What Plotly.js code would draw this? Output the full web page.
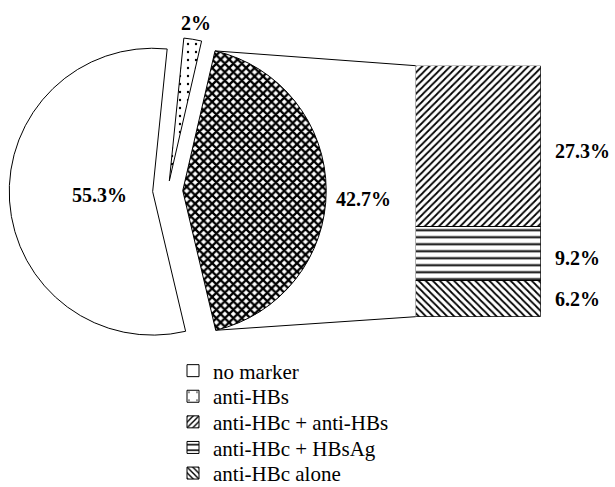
<!DOCTYPE html>
<html><head><meta charset="utf-8">
<script src="https://cdn.plot.ly/plotly-3.0.1.min.js"></script>
<style>html,body{margin:0;padding:0;background:#fff}#chart{width:615px;height:487px}</style>
</head><body><div id="chart"></div>
<script>
// ---- data ----
const pieLabels = ['anti-HBs', 'anti-HBc', 'no marker'];
const pieValues = [2, 42.7, 55.3];
const piePull = [0.07, 0.105, 0.105];
const pieRotation = 5.8;
const barLabels = ['anti-HBc alone', 'anti-HBc + HBsAg', 'anti-HBc + anti-HBs'];
const barValues = [6.2, 9.2, 27.3];
const legendOrder = ['no marker', 'anti-HBs', 'anti-HBc + anti-HBs', 'anti-HBc + HBsAg', 'anti-HBc alone'];

// ---- layout constants ----
const W = 615, H = 487;
const FONT = 'Liberation Serif';
const pieDomX = [9.2 / W, 326.2 / W];
const pieDomY = [1 - 349.2 / H, 1 - 32.2 / H];
const barDomX = [415.7 / W, 540.7 / W];
const barDomY = [1 - 316.7 / H, 1 - 65.7 / H];
const barTotal = barValues.reduce((a, b) => a + b, 0);
// label placement: radial distance (fraction of radius) along slice bisector
const pieLabelRadius = [1.12, 1.26, 0.37];
const pieLabelShift = [-1, -9, 0];

const piePattern = {
  shape: ['.', 'x', ''],
  size: [8, 6, 8],
  solidity: [0.07, 0.62, 0.3],
  fgcolor: 'black', bgcolor: 'white'
};
const barPatterns = {
  'anti-HBc alone': {shape: '\\', size: 5, solidity: 0.35},
  'anti-HBc + HBsAg': {shape: '-', size: 7, solidity: 0.28},
  'anti-HBc + anti-HBs': {shape: '/', size: 5, solidity: 0.35},
  'no marker': {shape: '', size: 8, solidity: 0.3},
  'anti-HBs': {shape: '.', size: 12, solidity: 0.03}
};
const boldFont = {family: FONT, size: 20, weight: 'bold', color: 'black'};

const traces = [];
traces.push({
  type: 'pie', labels: pieLabels, values: pieValues, sort: false,
  direction: 'clockwise', rotation: pieRotation, pull: piePull,
  domain: {x: pieDomX, y: pieDomY},
  marker: {colors: ['white', 'white', 'white'], line: {color: 'black', width: 1}, pattern: piePattern},
  textinfo: 'none', textposition: 'none',
  showlegend: false, hoverinfo: 'none'
});

const legendNames = ['legend', 'legend2', 'legend3', 'legend4', 'legend5'];
function legendFor(name) { return legendNames[legendOrder.indexOf(name)]; }

// legend entries for the pie categories
['no marker', 'anti-HBs'].forEach(n => {
  const p = barPatterns[n];
  traces.push({
    type: 'bar', x: ['c'], y: [null], name: n, legend: legendFor(n),
    marker: {color: 'white', line: {color: 'black', width: 1},
      pattern: {shape: p.shape, size: p.size, solidity: p.solidity, fgcolor: 'black', bgcolor: 'white'}},
    hoverinfo: 'none'
  });
});
barLabels.forEach((n, i) => {
  const p = barPatterns[n];
  traces.push({
    type: 'bar', x: ['c'], y: [barValues[i]], name: n, legend: legendFor(n),
    marker: {color: 'white', line: {color: 'black', width: 1},
      pattern: {shape: p.shape, size: p.size, solidity: p.solidity, fgcolor: 'black', bgcolor: 'white'}},
    hoverinfo: 'none'
  });
});

// bar labels
const annotations = [];
let cum = 0;
barValues.forEach((v, i) => {
  annotations.push({
    xref: 'x domain', yref: 'y', x: 1, y: cum + v / 2, xanchor: 'left', yanchor: 'middle',
    xshift: 12, yshift: i === 0 ? -1 : -5, text: v + '%', showarrow: false, font: boldFont
  });
  cum += v;
});

// pie geometry (same rules plotly uses to size the pie)
const pw = (pieDomX[1] - pieDomX[0]) * W, ph = (pieDomY[1] - pieDomY[0]) * H;
const maxPull = Math.max(...piePull);
const r = Math.min(pw, ph) / 2 / (1 + maxPull);
const cx = (pieDomX[0] + pieDomX[1]) / 2 * W;
const cy = (1 - (pieDomY[0] + pieDomY[1]) / 2) * H;
const pieTotal = pieValues.reduce((a, b) => a + b, 0);
const sliceGeo = [];
let acc = pieRotation;
pieValues.forEach((v, i) => {
  const a0 = acc, a1 = acc + v / pieTotal * 360;
  acc = a1;
  const am = (a0 + a1) / 2 * Math.PI / 180;
  const ox = cx + piePull[i] * r * Math.sin(am), oy = cy - piePull[i] * r * Math.cos(am);
  sliceGeo.push({a0, a1, am, ox, oy});
});
function slicePt(g, a, rr) { const t = a * Math.PI / 180; return [g.ox + rr * Math.sin(t), g.oy - rr * Math.cos(t)]; }

// pie labels
pieValues.forEach((v, i) => {
  const g = sliceGeo[i];
  const p = slicePt(g, (g.a0 + g.a1) / 2, pieLabelRadius[i] * r);
  annotations.push({
    xref: 'paper', yref: 'paper', x: p[0] / W, y: 1 - p[1] / H, xanchor: 'center', yanchor: 'middle',
    yshift: pieLabelShift[i], text: v + '%', showarrow: false, font: boldFont
  });
});

// connector lines from the exploded slice edges to the bar corners
const k = 1;
const pTop = slicePt(sliceGeo[k], sliceGeo[k].a0, r), pBot = slicePt(sliceGeo[k], sliceGeo[k].a1, r);
const shapes = [
  {type: 'line', xref: 'paper', yref: 'paper', x0: pTop[0] / W, y0: 1 - pTop[1] / H, x1: barDomX[0], y1: barDomY[1], line: {color: 'black', width: 1}},
  {type: 'line', xref: 'paper', yref: 'paper', x0: pBot[0] / W, y0: 1 - pBot[1] / H, x1: barDomX[0], y1: barDomY[0], line: {color: 'black', width: 1}}
];

const layout = {
  width: W, height: H, margin: {l: 0, r: 0, t: 0, b: 0, autoexpand: false},
  paper_bgcolor: 'white', plot_bgcolor: 'rgba(0,0,0,0)',
  barmode: 'stack', bargap: 0,
  xaxis: {domain: barDomX, range: [-0.5, 0.5], visible: false, fixedrange: true},
  yaxis: {domain: barDomY, range: [0, barTotal], visible: false, fixedrange: true},
  annotations: annotations, shapes: shapes,
  font: {family: FONT, color: 'black'}
};
legendNames.forEach((ln, i) => {
  layout[ln] = {
    x: 173 / W, xanchor: 'left', y: 1 - (371 + i * 25.6) / H, yanchor: 'middle',
    bgcolor: 'rgba(0,0,0,0)', borderwidth: 0,
    font: {family: FONT, size: 21, color: 'black'}
  };
});

Plotly.newPlot('chart', traces, layout, {staticPlot: true, displayModeBar: false});
</script></body></html>
